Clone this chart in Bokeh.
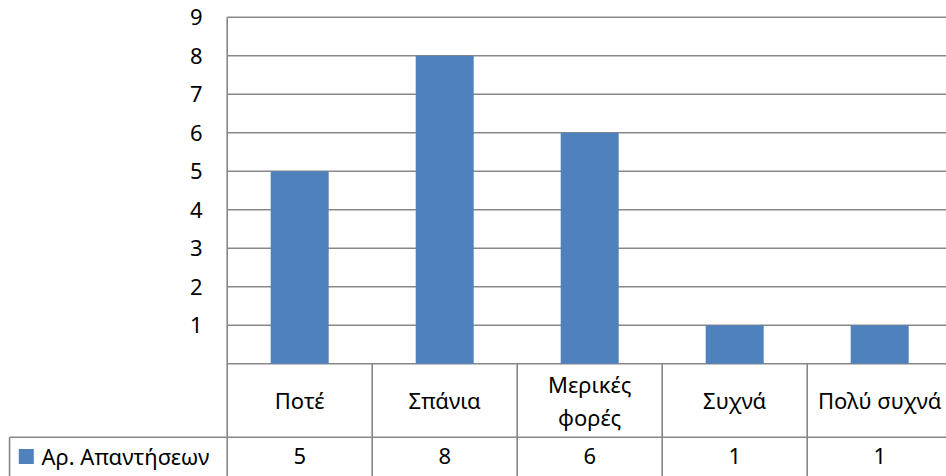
from bokeh.plotting import figure
from bokeh.models import Range1d, ColumnDataSource
from bokeh.core.properties import value
from bokeh.embed import file_html
from bokeh.resources import INLINE

# ---- data ----
categories = ["Ποτέ", "Σπάνια", "Μερικές\nφορές", "Συχνά", "Πολύ συχνά"]
answers = [5, 8, 6, 1, 1]
series_name = "Αρ. Απαντήσεων"
y_ticks = [1, 2, 3, 4, 5, 6, 7, 8, 9]
y_max = 9

# ---- styles ----
BAR = "#4F81BD"
LINE = "#878787"
FONT = "Noto Sans"
FS = "22px"
HEADER_BOTTOM = -1.906
ROW_CENTER = -2.407
HEADER_CENTER = -0.953
LEGEND_LEFT = -1.501
Y_BOTTOM = -2.927

n = len(categories)
xs = [i + 0.5 for i in range(n)]

p = figure(width=946, height=476, output_backend="svg", toolbar_location=None,
           x_range=Range1d(-1.5634, 4.9607), y_range=Range1d(Y_BOTTOM, 9.434),
           min_border=0, min_border_left=0, min_border_right=0,
           min_border_top=0, min_border_bottom=0)
p.xaxis.visible = False
p.yaxis.visible = False
p.grid.visible = False
p.outline_line_color = None
p.background_fill_color = "white"
p.border_fill_color = "white"

# horizontal gridlines (0..9) across plot area
p.segment(x0=[0] * (len(y_ticks) + 1), x1=[n] * (len(y_ticks) + 1),
          y0=[0] + y_ticks, y1=[0] + y_ticks, line_color=LINE, line_width=1.6)

# bars
src = ColumnDataSource(dict(x=xs, top=answers, cat=categories, val=[str(v) for v in answers]))
p.vbar(x="x", top="top", bottom=0, width=0.4, source=src, fill_color=BAR, line_color=None)

# y tick labels
p.text(x=[-0.17] * len(y_ticks), y=y_ticks, text=[str(t) for t in y_ticks],
       text_align="right", text_baseline="middle", text_font=value(FONT),
       text_font_size=FS, text_color="black")

# table lines
p.segment(x0=[0], x1=[0], y0=[Y_BOTTOM], y1=[y_max], line_color=LINE, line_width=1.6)
p.segment(x0=[i for i in range(1, n + 1)], x1=[i for i in range(1, n + 1)],
          y0=[Y_BOTTOM] * n, y1=[0] * n, line_color=LINE, line_width=1.6)
p.segment(x0=[LEGEND_LEFT], x1=[n], y0=[HEADER_BOTTOM], y1=[HEADER_BOTTOM],
          line_color=LINE, line_width=1.6)
p.segment(x0=[LEGEND_LEFT], x1=[LEGEND_LEFT], y0=[Y_BOTTOM], y1=[HEADER_BOTTOM],
          line_color=LINE, line_width=1.6)

# header labels
p.text(x="x", y=HEADER_CENTER, text="cat", source=src, text_align="center",
       text_baseline="middle", text_font=value(FONT), text_font_size=FS,
       text_color="black", text_line_height=1.1)

# data row values
p.text(x="x", y=ROW_CENTER, text="val", source=src, text_align="center",
       text_baseline="middle", text_font=value(FONT), text_font_size=FS,
       text_color="black")

# legend key + series name
p.rect(x=[-1.3855], y=[ROW_CENTER], width=15, height=15, width_units="screen",
       height_units="screen", fill_color=BAR, line_color=None)
p.text(x=[-1.2807], y=[ROW_CENTER], text=[series_name], text_align="left",
       text_baseline="middle", text_font=value(FONT), text_font_size=FS,
       text_color="black")

open("out.html", "w").write(file_html(p, INLINE))
